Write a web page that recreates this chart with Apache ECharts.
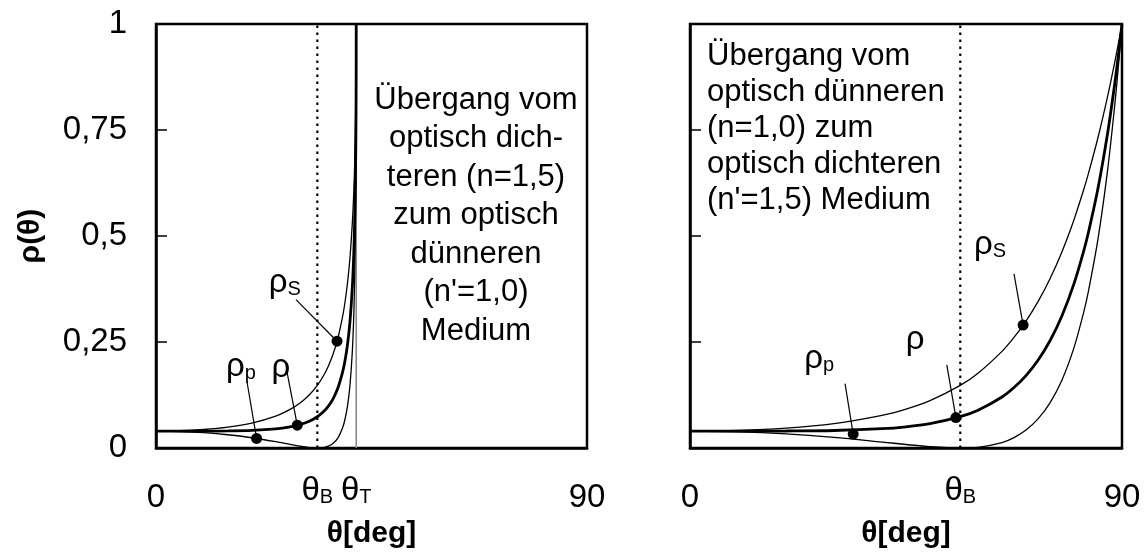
<!DOCTYPE html>
<html>
<head>
<meta charset="utf-8">
<script src="https://cdn.jsdelivr.net/npm/echarts@6/dist/echarts.min.js"></script>
<style>
  html, body { margin: 0; padding: 0; background: #fff; }
  #chart { width: 1147px; height: 554px; }
</style>
</head>
<body>
<div id="chart"></div>
<script>
// Reflectance vs. angle of incidence, glass (n=1.5) -> air (n'=1.0)
const thetaLeft = [0, 5, 10, 15, 20, 25, 28, 30, 32, 33.69, 35, 36, 37, 38, 39, 39.5, 40, 40.5, 41, 41.3, 41.5, 41.7, 41.76, 41.8, 41.81];
const rhoSLeft  = [0.04, 0.0409, 0.0439, 0.0495, 0.0591, 0.0755, 0.0912, 0.1058, 0.1254, 0.1479, 0.1711, 0.1937, 0.2224, 0.2601, 0.3122, 0.3469, 0.3905, 0.4483, 0.5310, 0.6040, 0.6751, 0.7911, 0.8536, 0.9310, 1];
const rhoPLeft  = [0.04, 0.0391, 0.0363, 0.0315, 0.0244, 0.0151, 0.0087, 0.0046, 0.0012, 0, 0.0012, 0.0045, 0.0113, 0.0243, 0.0492, 0.0698, 0.1001, 0.1473, 0.2285, 0.3136, 0.4082, 0.5888, 0.6997, 0.8512, 1];
const rhoLeft   = [0.04, 0.04, 0.0401, 0.0405, 0.0417, 0.0453, 0.0500, 0.0552, 0.0633, 0.0740, 0.0861, 0.0991, 0.1168, 0.1422, 0.1807, 0.2083, 0.2453, 0.2978, 0.3798, 0.4588, 0.5416, 0.6899, 0.7766, 0.8911, 1];

// Reflectance vs. angle of incidence, air (n=1.0) -> glass (n'=1.5)
const thetaRight = [0, 10, 20, 30, 40, 45, 50, 56.31, 60, 65, 67.5, 70, 72.5, 75, 77.5, 80, 82, 83, 85, 87, 88.5, 89.3, 90];
const rhoSRight  = [0.04, 0.0417, 0.0471, 0.0578, 0.0772, 0.0920, 0.1121, 0.1479, 0.1766, 0.2281, 0.2609, 0.2996, 0.3453, 0.3994, 0.4632, 0.5386, 0.6086, 0.6472, 0.7323, 0.8293, 0.9106, 0.9572, 1];
const rhoPRight  = [0.04, 0.0384, 0.0335, 0.0253, 0.0143, 0.0085, 0.0033, 0, 0.0018, 0.0130, 0.0247, 0.0425, 0.0688, 0.1068, 0.1607, 0.2368, 0.3193, 0.3696, 0.4932, 0.6555, 0.8099, 0.9063, 1];
const rhoRight   = [0.04, 0.0400, 0.0403, 0.0415, 0.0457, 0.0502, 0.0577, 0.0740, 0.0892, 0.1205, 0.1428, 0.1710, 0.2071, 0.2531, 0.3120, 0.3877, 0.4639, 0.5084, 0.6128, 0.7424, 0.8602, 0.9318, 1];

// Characteristic angles
const brewsterLeft = 33.69;
const totalReflection = 41.81;
const brewsterRight = 56.31;

// Annotated points: [theta, rho], leader-line ends and label anchors
const curveNames = ['{m|ρ}{s|p}', '{m|ρ}', '{m|ρ}{s|S}'];
const markersLeft = [[21, 0.0227], [29.5, 0.054], [37.8, 0.252]];
const leaderEndsLeft = [[19.0, 0.1565], [27.35, 0.180], [29.23, 0.350]];
const labelAnchorsLeft = [[17.75, 0.192], [26.1, 0.189], [26.9, 0.390]];
const markersRight = [[34, 0.033], [55.4, 0.072], [69.4, 0.29]];
const leaderEndsRight = [[32.3, 0.152], [53.5, 0.196], [67.5, 0.411]];
const labelAnchorsRight = [[26.9, 0.21], [46.9, 0.255], [62.5, 0.479]];

const textLeft = 'Übergang vom\noptisch dich-\nteren (n=1,5)\nzum optisch\ndünneren\n(n\'=1,0)\nMedium';
const textRight = 'Übergang vom\noptisch dünneren\n(n=1,0) zum\noptisch dichteren\n(n\'=1,5) Medium';

const FONT = '"Liberation Sans", Arial, Helvetica, sans-serif';
const richStyles = {
  m: { fontSize: 33, fontFamily: FONT, color: '#000' },
  s: { fontSize: 20, fontFamily: FONT, color: '#000', verticalAlign: 'bottom', lineHeight: 12 }
};

const zip = (xs, ys) => xs.map((x, i) => [x, ys[i]]);

function curve(name, xs, ys, idx, width) {
  return {
    type: 'line', name, xAxisIndex: idx, yAxisIndex: idx,
    data: zip(xs, ys), showSymbol: false, smooth: 0.3,
    lineStyle: { color: '#000', width }, z: 3, silent: true
  };
}

function vline(x, idx, style) {
  return {
    type: 'line', xAxisIndex: idx, yAxisIndex: idx,
    data: [[x, 0], [x, 1]], showSymbol: false,
    lineStyle: style, z: 2, silent: true
  };
}

function xAxisCfg(idx) {
  return {
    type: 'value', gridIndex: idx, min: 0, max: 90, interval: 90,
    axisLine: { show: true, lineStyle: { color: '#000', width: 2.5 } },
    axisTick: { show: false }, splitLine: { show: false },
    axisLabel: { fontSize: 33, fontFamily: FONT, color: '#000', margin: 33 },
    name: 'θ[deg]', nameLocation: 'middle', nameGap: 53,
    nameTextStyle: { fontSize: 30, fontWeight: 'bold', fontFamily: FONT, color: '#000' }
  };
}

function yAxisCfg(idx, showLabels) {
  const cfg = {
    type: 'value', gridIndex: idx, min: 0, max: 1, interval: 0.25,
    axisLine: { show: true, lineStyle: { color: '#000', width: 2.5 } },
    axisTick: { show: true, inside: true, length: 11, lineStyle: { color: '#000', width: 1.5 } },
    splitLine: { show: false },
    axisLabel: {
      show: showLabels, fontSize: 33, fontFamily: FONT, color: '#000', margin: 29,
      formatter: v => String(v).replace('.', ',')
    }
  };
  if (showLabels) {
    cfg.name = 'ρ(θ)';
    cfg.nameLocation = 'middle';
    cfg.nameRotate = 90;
    cfg.nameGap = 110;
    cfg.nameTextStyle = { fontSize: 30, fontWeight: 'bold', fontFamily: FONT, color: '#000' };
  }
  return cfg;
}

const dotted = { color: '#000', width: 2.2, type: [2.5, 4.5] };

const chart = echarts.init(document.getElementById('chart'), null, { renderer: 'canvas' });

const option = {
  animation: false,
  backgroundColor: '#fff',
  grid: [
    { left: 156, top: 24, width: 431, height: 428, show: true, borderColor: '#000', borderWidth: 2.5, backgroundColor: 'transparent' },
    { left: 690, top: 24, width: 432, height: 428, show: true, borderColor: '#000', borderWidth: 2.5, backgroundColor: 'transparent' }
  ],
  xAxis: [xAxisCfg(0), xAxisCfg(1)],
  yAxis: [yAxisCfg(0, true), yAxisCfg(1, false)],
  series: [
    vline(brewsterLeft, 0, dotted),
    vline(totalReflection, 0, { color: '#8a8a8a', width: 1.6 }),
    vline(brewsterRight, 1, dotted),
    curve('ρs', thetaLeft, rhoSLeft, 0, 1.3),
    curve('ρp', thetaLeft, rhoPLeft, 0, 1.3),
    curve('ρ', thetaLeft, rhoLeft, 0, 2.8),
    curve('ρs', thetaRight, rhoSRight, 1, 1.3),
    curve('ρp', thetaRight, rhoPRight, 1, 1.3),
    curve('ρ', thetaRight, rhoRight, 1, 2.8),
    {
      type: 'lines', coordinateSystem: 'cartesian2d', xAxisIndex: 0, yAxisIndex: 0,
      data: markersLeft.map((p, i) => ({ coords: [p, leaderEndsLeft[i]] })),
      lineStyle: { color: '#000', width: 1.2, opacity: 1 }, z: 4, silent: true
    },
    {
      type: 'lines', coordinateSystem: 'cartesian2d', xAxisIndex: 1, yAxisIndex: 1,
      data: markersRight.map((p, i) => ({ coords: [p, leaderEndsRight[i]] })),
      lineStyle: { color: '#000', width: 1.2, opacity: 1 }, z: 4, silent: true
    },
    {
      type: 'scatter', xAxisIndex: 0, yAxisIndex: 0, data: markersLeft,
      symbolSize: 11, itemStyle: { color: '#000', opacity: 1 }, z: 5, silent: true
    },
    {
      type: 'scatter', xAxisIndex: 1, yAxisIndex: 1, data: markersRight,
      symbolSize: 11, itemStyle: { color: '#000', opacity: 1 }, z: 5, silent: true
    }
  ]
};

chart.setOption(option);

// Labels placed through the axes' own scales
function textAt(gridIndex, point, text) {
  const [px, py] = chart.convertToPixel({ gridIndex }, point);
  return {
    type: 'text', x: px, y: py, z: 10, silent: true,
    style: {
      text, rich: richStyles, fill: '#000',
      fontSize: 33, fontFamily: FONT,
      align: 'center', verticalAlign: 'middle',
      textAlign: 'center', textVerticalAlign: 'middle'
    }
  };
}

function angleLabel(gridIndex, angle, sub) {
  const [px] = chart.convertToPixel({ gridIndex }, [angle, 0]);
  const [, py0] = chart.convertToPixel({ gridIndex }, [0, 0]);
  return {
    type: 'text', x: px, y: py0 + 43, z: 10, silent: true,
    style: {
      text: '{m|θ}{s|' + sub + '}', rich: richStyles, fill: '#000',
      align: 'center', verticalAlign: 'middle',
      textAlign: 'center', textVerticalAlign: 'middle'
    }
  };
}

const graphics = [];
labelAnchorsLeft.forEach((p, i) => graphics.push(textAt(0, p, curveNames[i])));
labelAnchorsRight.forEach((p, i) => graphics.push(textAt(1, p, curveNames[i])));
graphics.push(angleLabel(0, brewsterLeft, 'B'));
graphics.push(angleLabel(0, totalReflection, 'T'));
graphics.push(angleLabel(1, brewsterRight, 'B'));

graphics.push({
  type: 'text', x: 476, y: 81, z: 10, silent: true,
  style: {
    text: textLeft, fill: '#000', fontSize: 31, fontFamily: FONT, lineHeight: 38.5,
    align: 'center', verticalAlign: 'top', textAlign: 'center', textVerticalAlign: 'top'
  }
});
graphics.push({
  type: 'text', x: 707, y: 38, z: 10, silent: true,
  style: {
    text: textRight, fill: '#000', fontSize: 31, fontFamily: FONT, lineHeight: 36,
    align: 'left', verticalAlign: 'top', textAlign: 'left', textVerticalAlign: 'top'
  }
});

chart.setOption({ graphic: graphics });
</script>
</body>
</html>
